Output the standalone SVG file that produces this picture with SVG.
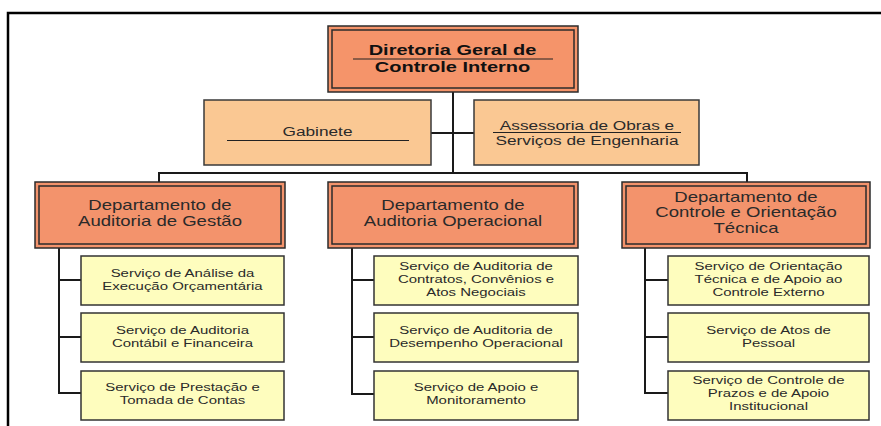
<svg xmlns="http://www.w3.org/2000/svg" width="881" height="426" viewBox="0 0 881 426">
<defs>
<style>
text{font-family:"Liberation Sans",Arial,sans-serif;text-anchor:middle;fill:#2a2a2a}
.t0{font-size:15.5px;font-weight:bold;fill:#111}
.t1{font-size:12.5px}
.t2{font-size:14.5px}
.t3{font-size:11.5px}
.top{fill:#F5946A;stroke:#2b2b2b;stroke-width:1.5}
.top2{fill:none;stroke:#2b2b2b;stroke-width:1.5}
.l2{fill:#FAC893;stroke:#3a3a3a;stroke-width:1.5}
.dep{fill:#F3936C;stroke:#2b2b2b;stroke-width:1.5}
.svc{fill:#FEFDBE;stroke:#333;stroke-width:1.5}
.ul{stroke:#222;stroke-width:1.2}
.con{fill:none;stroke:#1a1a1a;stroke-width:2}
</style>
</defs>
<rect width="881" height="426" fill="#fff"/>
<path d="M8,426 V13 H881" fill="none" stroke="#000" stroke-width="2.5"/>

<g id="connectors" class="con">
<path d="M453,92 V173"/>
<path d="M431,133 H474"/>
<path d="M159,182 V173 H747 V182"/>
<path d="M59,248 V393 H81 M59,280 H81 M59,337 H81"/>
<path d="M352,248 V394 H374 M352,280 H374 M352,337 H374"/>
<path d="M645,248 V393 H668 M645,280 H668 M645,337 H668"/>
</g>

<g id="diretoria">
<rect class="top" x="328" y="26" width="250" height="66"/>
<rect class="top2" x="332" y="30" width="242" height="58"/>
<line class="ul" x1="353" y1="59" x2="553" y2="59"/>
<text class="t0" transform="translate(452.5,0) scale(1.29,1)"><tspan x="0" y="55">Diretoria Geral de</tspan><tspan x="0" y="72">Controle Interno</tspan></text>
</g>

<g id="gabinete">
<rect class="l2" x="204" y="100" width="227" height="65"/>
<line class="ul" x1="227" y1="140.5" x2="409" y2="140.5"/>
<text class="t1" transform="translate(317.5,0) scale(1.38,1)"><tspan x="0" y="136.5">Gabinete</tspan></text>
</g>

<g id="assessoria">
<rect class="l2" x="474" y="100" width="225" height="65"/>
<line class="ul" x1="493" y1="132.5" x2="681" y2="132.5"/>
<text class="t1" transform="translate(587,0) scale(1.38,1)"><tspan x="0" y="130">Assessoria de Obras e</tspan><tspan x="0" y="145">Serviços de Engenharia</tspan></text>
</g>

<g id="dep-gestao">
<rect class="dep" x="35" y="182" width="250" height="66"/>
<rect class="top2" x="39" y="186" width="242" height="58"/>
<text class="t2" transform="translate(160,0) scale(1.28,1)"><tspan x="0" y="210">Departamento de</tspan><tspan x="0" y="226">Auditoria de Gestão</tspan></text>
</g>

<g id="dep-operacional">
<rect class="dep" x="328" y="182" width="250" height="66"/>
<rect class="top2" x="332" y="186" width="242" height="58"/>
<text class="t2" transform="translate(453,0) scale(1.28,1)"><tspan x="0" y="210">Departamento de</tspan><tspan x="0" y="226">Auditoria Operacional</tspan></text>
</g>

<g id="dep-controle">
<rect class="dep" x="622" y="182" width="248" height="66"/>
<rect class="top2" x="626" y="186" width="240" height="58"/>
<text class="t2" transform="translate(746,0) scale(1.28,1)"><tspan x="0" y="202">Departamento de</tspan><tspan x="0" y="217.5">Controle e Orientação</tspan><tspan x="0" y="233">Técnica</tspan></text>
</g>

<g id="s-analise">
<rect class="svc" x="81" y="256" width="203" height="49"/>
<text class="t3" transform="translate(182.5,0) scale(1.3,1)"><tspan x="0" y="277">Serviço de Análise da</tspan><tspan x="0" y="290">Execução Orçamentária</tspan></text>
</g>
<g id="s-contabil">
<rect class="svc" x="81" y="313" width="203" height="49"/>
<text class="t3" transform="translate(182.5,0) scale(1.3,1)"><tspan x="0" y="334">Serviço de Auditoria</tspan><tspan x="0" y="347">Contábil e Financeira</tspan></text>
</g>
<g id="s-prestacao">
<rect class="svc" x="81" y="371" width="203" height="49"/>
<text class="t3" transform="translate(182.5,0) scale(1.3,1)"><tspan x="0" y="391.5">Serviço de Prestação e</tspan><tspan x="0" y="404.5">Tomada de Contas</tspan></text>
</g>

<g id="s-contratos">
<rect class="svc" x="374" y="256" width="204" height="49"/>
<text class="t3" transform="translate(476,0) scale(1.3,1)"><tspan x="0" y="270">Serviço de Auditoria de</tspan><tspan x="0" y="283">Contratos, Convênios e</tspan><tspan x="0" y="296">Atos Negociais</tspan></text>
</g>
<g id="s-desempenho">
<rect class="svc" x="374" y="313" width="204" height="49"/>
<text class="t3" transform="translate(476,0) scale(1.3,1)"><tspan x="0" y="334">Serviço de Auditoria de</tspan><tspan x="0" y="347">Desempenho Operacional</tspan></text>
</g>
<g id="s-apoio">
<rect class="svc" x="374" y="371" width="204" height="49"/>
<text class="t3" transform="translate(476,0) scale(1.3,1)"><tspan x="0" y="391.5">Serviço de Apoio e</tspan><tspan x="0" y="404.5">Monitoramento</tspan></text>
</g>

<g id="s-orientacao">
<rect class="svc" x="668" y="256" width="201" height="49"/>
<text class="t3" transform="translate(768.5,0) scale(1.3,1)"><tspan x="0" y="270">Serviço de Orientação</tspan><tspan x="0" y="283">Técnica e de Apoio ao</tspan><tspan x="0" y="296">Controle Externo</tspan></text>
</g>
<g id="s-pessoal">
<rect class="svc" x="668" y="313" width="201" height="49"/>
<text class="t3" transform="translate(768.5,0) scale(1.3,1)"><tspan x="0" y="334">Serviço de Atos de</tspan><tspan x="0" y="347">Pessoal</tspan></text>
</g>
<g id="s-prazos">
<rect class="svc" x="668" y="371" width="201" height="49"/>
<text class="t3" transform="translate(768.5,0) scale(1.3,1)"><tspan x="0" y="384.5">Serviço de Controle de</tspan><tspan x="0" y="397.5">Prazos e de Apoio</tspan><tspan x="0" y="410.5">Institucional</tspan></text>
</g>
</svg>
